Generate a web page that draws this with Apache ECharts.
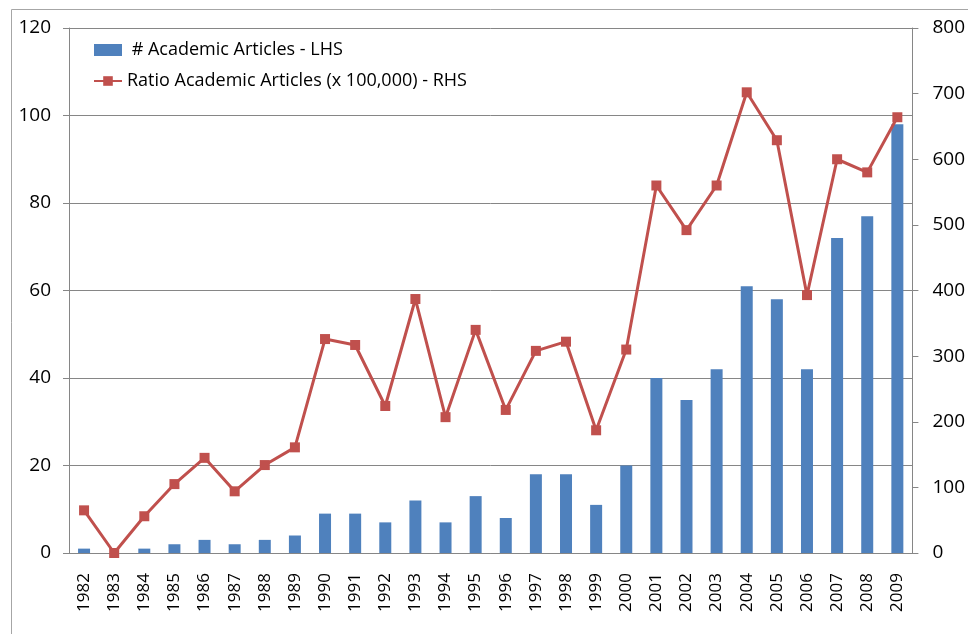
<!DOCTYPE html>
<html>
<head>
<meta charset="utf-8">
<script src="https://cdn.jsdelivr.net/npm/echarts@6/dist/echarts.min.js"></script>
<style>
html,body{margin:0;padding:0;background:#fff;}
#chart{width:968px;height:634px;}
</style>
</head>
<body>
<div id="chart"></div>
<script>
const years = ['1982','1983','1984','1985','1986','1987','1988','1989','1990','1991','1992','1993','1994','1995','1996','1997','1998','1999','2000','2001','2002','2003','2004','2005','2006','2007','2008','2009'];
const articles = [1,0,1,2,3,2,3,4,9,9,7,12,7,13,8,18,18,11,20,40,35,42,61,58,42,72,77,98];
const ratio = [65,0,56,105,145,94,134,161,326,317,224,387,207,340,218,308,322,187,310,560,492,560,702,629,393,600,580,664];
const leftTicks = [0,20,40,60,80,100,120];
const rightTicks = [0,100,200,300,400,500,600,700,800];

const FONT = '"Open Sans", "Liberation Sans", sans-serif';
const chart = echarts.init(document.getElementById('chart'));
chart.setOption({
  animation: false,
  backgroundColor: '#fff',
  graphic: [{
    type: 'rect', left: 9, top: 7,
    shape: { width: 1100, height: 1100 },
    style: { fill: 'none', stroke: '#a6a6a6', lineWidth: 1 }
  }],
  legend: {
    orient: 'vertical', left: 88, top: 33, itemGap: 7,
    itemWidth: 28, itemHeight: 12,
    textStyle: { fontFamily: FONT, fontSize: 18, color: '#000', lineHeight: 24 },
    formatter: n => n.charAt(0) === '#' ? ' ' + n : n,
    data: [
      { name: '# Academic Articles - LHS', icon: 'rect' },
      { name: 'Ratio Academic Articles (x 100,000) - RHS' }
    ]
  },
  grid: { left: 69, right: 52, top: 28, bottom: 81 },
  xAxis: {
    type: 'category', data: years, boundaryGap: true,
    axisLine: { lineStyle: { color: '#868686' } },
    axisTick: { length: 6, lineStyle: { color: '#868686' } },
    axisLabel: { rotate: 90, interval: 0, fontFamily: FONT, fontSize: 17, color: '#000', margin: 20 }
  },
  yAxis: [{
    type: 'value', min: 0, max: 120, interval: 20, position: 'left',
    axisLine: { show: true, lineStyle: { color: '#868686' } },
    axisTick: { show: true, length: 6, lineStyle: { color: '#868686' } },
    splitLine: { show: true, lineStyle: { color: '#868686' } },
    axisLabel: { fontFamily: FONT, fontSize: 19, color: '#000', margin: 18,
      formatter: v => leftTicks.includes(v) ? String(v) : '' }
  }, {
    type: 'value', min: 0, max: 800, interval: 100, position: 'right',
    axisLine: { show: true, lineStyle: { color: '#868686' } },
    axisTick: { show: true, length: 6, lineStyle: { color: '#868686' } },
    splitLine: { show: false },
    axisLabel: { fontFamily: FONT, fontSize: 19, color: '#000', margin: 20,
      formatter: v => rightTicks.includes(v) ? String(v) : '' }
  }],
  series: [{
    name: '# Academic Articles - LHS', type: 'bar', yAxisIndex: 0,
    data: articles, barWidth: 12,
    itemStyle: { color: '#4F81BD' }
  }, {
    name: 'Ratio Academic Articles (x 100,000) - RHS', type: 'line', yAxisIndex: 1,
    data: ratio, symbol: 'rect', symbolSize: 10, showAllSymbol: true,
    lineStyle: { color: '#C0504D', width: 3 },
    itemStyle: { color: '#C0504D' }
  }]
});
</script>
</body>
</html>
